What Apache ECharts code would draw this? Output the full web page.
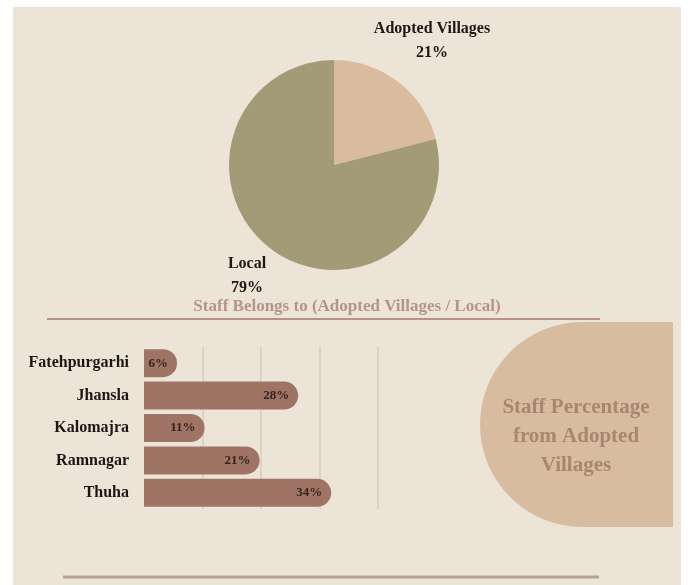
<!DOCTYPE html>
<html>
<head>
<meta charset="utf-8">
<script src="https://cdn.jsdelivr.net/npm/echarts@6/dist/echarts.min.js"></script>
<style>
html,body{margin:0;padding:0;background:#ffffff;}
#chart{width:688px;height:585px;}
</style>
</head>
<body>
<div id="chart"></div>
<script>
// ---- data ----
const pieNames = ['Adopted Villages', 'Local'];
const pieValues = [21, 79];
const pieTitle = 'Staff Belongs to (Adopted Villages / Local)';

const villages = ['Fatehpurgarhi', 'Jhansla', 'Kalomajra', 'Ramnagar', 'Thuha'];
const villageShares = [6, 28, 11, 21, 34];
const sideTitle = 'Staff Percentage\nfrom Adopted\nVillages';

// ---- chart ----
const SERIF = "'Liberation Serif', 'Times New Roman', serif";
const chart = echarts.init(document.getElementById('chart'));

const labelSpots = [
  {x: 432, y: 41},
  {x: 247, y: 276}
];

chart.setOption({
  backgroundColor: '#ffffff',
  animation: false,
  graphic: [
    {type: 'rect', z: -10, shape: {x: 13, y: 7, width: 668, height: 578}, style: {fill: '#ece4d6'}},
    {type: 'line', z: -5, shape: {x1: 47, y1: 319, x2: 600, y2: 319}, style: {stroke: '#b8928a', lineWidth: 2}},
    {type: 'line', z: -5, shape: {x1: 63, y1: 577, x2: 599, y2: 577}, style: {stroke: '#b6a193', lineWidth: 3}},
    {type: 'rect', z: -4, shape: {x: 480, y: 322, width: 193, height: 205, r: [102.5, 0, 0, 102.5]}, style: {fill: '#d8bc9f'}},
    {type: 'text', z: 5, x: 576, y: 437, style: {
      text: sideTitle, fill: '#a8866f', font: 'bold 21px ' + SERIF,
      align: 'center', verticalAlign: 'middle', lineHeight: 29
    }},
    {type: 'text', z: 5, x: 347, y: 307, style: {
      text: pieTitle, fill: '#b8938a', font: 'bold 17px ' + SERIF,
      align: 'center', verticalAlign: 'middle'
    }}
  ],
  grid: {left: 144, top: 347, width: 234, height: 162},
  xAxis: {
    type: 'value', min: 0, max: 42.5, interval: 10.625,
    axisLabel: {show: false}, axisLine: {show: false}, axisTick: {show: false},
    splitLine: {show: true, showMinLine: false, lineStyle: {color: '#d6cdc0', width: 1.5}}
  },
  yAxis: {
    type: 'category', data: villages, inverse: true,
    axisLine: {show: false}, axisTick: {show: false},
    axisLabel: {color: '#1c1714', fontFamily: SERIF, fontWeight: 'bold', fontSize: 16, margin: 15}
  },
  series: [
    {
      type: 'pie',
      center: [334, 165],
      radius: 105,
      startAngle: 90,
      clockwise: true,
      silent: true,
      data: pieNames.map((n, i) => ({
        name: n, value: pieValues[i],
        itemStyle: {color: i === 0 ? '#d9bc9f' : '#a39a76'}
      })),
      label: {
        show: true, position: 'outside', formatter: '{b}\n{c}%',
        color: '#1c1714', fontFamily: SERIF, fontWeight: 'bold', fontSize: 16,
        lineHeight: 24, align: 'center'
      },
      labelLine: {show: false},
      labelLayout: function (p) {
        const s = labelSpots[p.dataIndex];
        return {x: s.x, y: s.y, align: 'center', verticalAlign: 'middle'};
      }
    },
    {
      type: 'bar',
      data: villageShares,
      barWidth: 28,
      itemStyle: {color: '#9f7464', borderRadius: [0, 14, 14, 0]},
      label: {
        show: true, position: 'insideRight', distance: 9, formatter: '{c}%',
        color: '#33241f', fontFamily: SERIF, fontWeight: 'bold', fontSize: 13
      }
    }
  ]
});
</script>
</body>
</html>
